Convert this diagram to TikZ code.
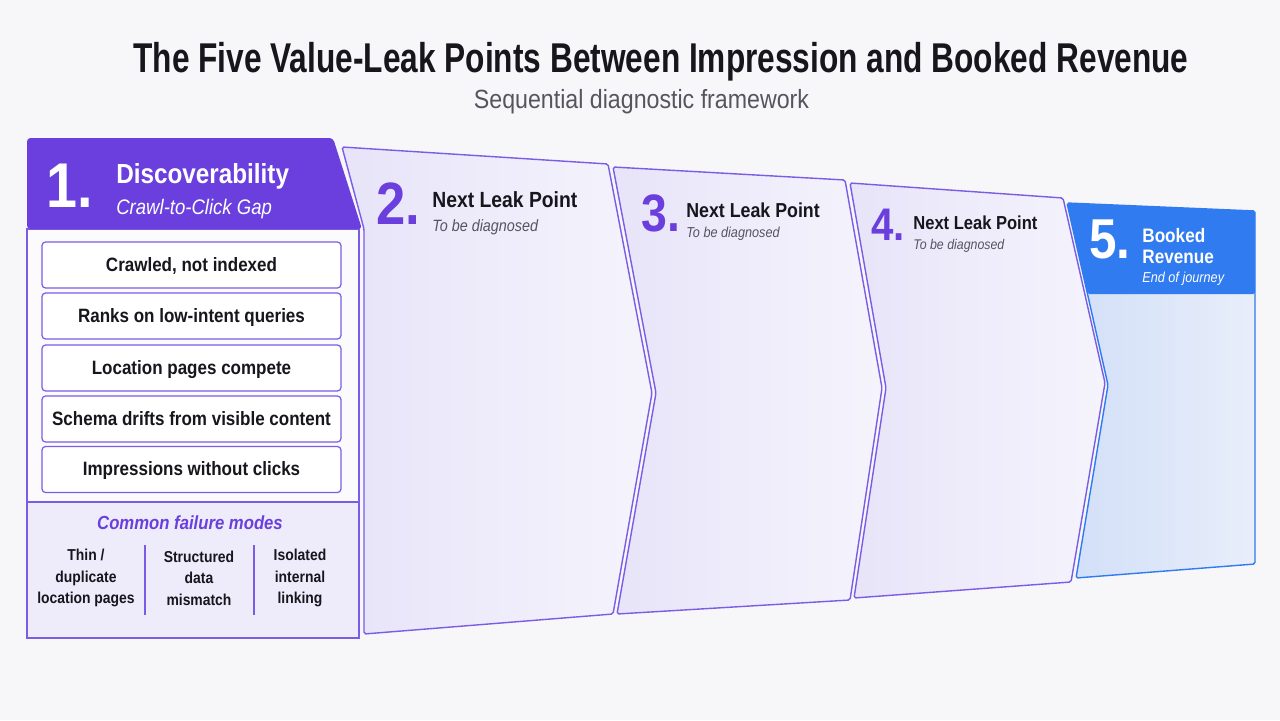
\documentclass[tikz,border=0pt]{standalone}
\usepackage{fontspec}
\setmainfont{Liberation Sans}[FakeStretch=0.88]
\newfontfamily\titlefont{Liberation Sans}[FakeStretch=0.76]
\usetikzlibrary{positioning}
\definecolor{bg}{HTML}{F7F7FA}
\definecolor{leakpurple}{HTML}{6A3FDD}
\definecolor{leakline}{HTML}{7B5CE6}
\definecolor{leakfillA}{HTML}{E8E4F9}
\definecolor{leakfillB}{HTML}{F5F4FC}
\definecolor{modefill}{HTML}{EEEBFA}
\definecolor{revblue}{HTML}{2F7BEF}
\definecolor{revfillA}{HTML}{D2DFF8}
\definecolor{revfillB}{HTML}{E8EEFA}
\definecolor{inktext}{HTML}{16161C}
\definecolor{subgray}{HTML}{55555F}
\newcommand{\fsz}[1]{\fontsize{#1}{#1}\selectfont}
\begin{document}
\begin{tikzpicture}[x=0.02cm, y=-0.02cm,
    panel/.style={draw=leakline, line width=0.8pt, rounded corners=1pt, left color=leakfillA, right color=leakfillB},
    itembox/.style={draw=leakline, line width=0.7pt, rounded corners=2pt, fill=white,
        minimum width=5.98cm, minimum height=0.92cm, inner sep=0pt,
        text height=0.72em, text depth=0pt, font=\bfseries\fsz{11}, text=inktext},
    lbl/.style={inner sep=0pt, anchor=base west},
    modetext/.style={inner sep=0pt, align=center, font=\bfseries\fontsize{9}{12.2}\selectfont, text=inktext}]
    \useasboundingbox (0,0) rectangle (1280,720);
    \fill[bg] (0,0) rectangle (1280,720);

    % title
    \node[inner sep=0pt, anchor=base, font=\titlefont\bfseries\fsz{23.7}, text=inktext] (title) at (661,72)
        {The Five Value-Leak Points Between Impression and Booked Revenue};
    \node[inner sep=0pt, anchor=base, font=\fsz{15}, text=subgray] (subtitle) at (641.5,108)
        {Sequential diagnostic framework};

    % 5. booked revenue
    \draw[draw=revblue, line width=0.8pt, rounded corners=1pt, left color=revfillA, right color=revfillB]
        (1067,203) -- (1255,211) -- (1255,564) -- (1076,578) -- (1108,385) -- cycle;
    \fill[revblue, rounded corners=1pt] (1067,203) -- (1255,211) -- (1255,294) -- (1087.5,294) -- cycle;
    \node[lbl, font=\bfseries\fsz{32}, text=white] (n5) at (1089,258) {5.};
    \node[lbl, font=\bfseries\fsz{11.1}, text=white] (booked) at (1142,242) {Booked};
    \node[lbl, font=\bfseries\fsz{11.1}, text=white] (revenue) at (1142,263) {Revenue};
    \node[lbl, font=\itshape\fsz{8.2}, text=white] (journey) at (1142,282) {End of journey};

    % 4.
    \draw[panel] (850,183) -- (1063,198) -- (1105,383) -- (1071,582) -- (854,598) -- (886,388) -- cycle;
    \node[lbl, font=\bfseries\fsz{26}, text=leakpurple] (n4) at (871,240) {4.};
    \node[lbl, font=\bfseries\fsz{10.7}, text=inktext] (leak4) at (913,229) {Next Leak Point};
    \node[lbl, font=\itshape\fsz{8}, text=subgray] (diag4) at (913,249) {To be diagnosed};

    % 3.
    \draw[panel] (613,167) -- (845,180) -- (882,388) -- (850,600) -- (617,614) -- (656,393) -- cycle;
    \node[lbl, font=\bfseries\fsz{30}, text=leakpurple] (n3) at (641,231) {3.};
    \node[lbl, font=\bfseries\fsz{11.5}, text=inktext] (leak3) at (686,217) {Next Leak Point};
    \node[lbl, font=\itshape\fsz{8.2}, text=subgray] (diag3) at (686,237) {To be diagnosed};

    % 2.
    \draw[panel] (342,147) -- (608,164) -- (652,393) -- (613,614) -- (364,634) -- (364,229) -- cycle;
    \node[lbl, font=\bfseries\fsz{34}, text=leakpurple] (n2) at (376,224) {2.};
    \node[lbl, font=\bfseries\fsz{12.5}, text=inktext] (leak2) at (432,207) {Next Leak Point};
    \node[lbl, font=\itshape\fsz{9.3}, text=subgray] (diag2) at (432,231) {To be diagnosed};

    % 1. discoverability
    \draw[draw=leakline, line width=0.8pt, fill=leakfillB!40!white] (27,229) rectangle (359,638);
    \draw[draw=leakline, line width=0.8pt, fill=modefill] (27,502) rectangle (359,638);
    \fill[leakpurple, rounded corners=2pt] (27,229) -- (27,138) -- (333,138) -- (362,229) -- cycle;
    \node[lbl, font=\bfseries\fsz{36}, text=white] (n1) at (46,207) {1.};
    \node[lbl, font=\bfseries\fsz{15.7}, text=white] (disc) at (116,183) {Discoverability};
    \node[lbl, font=\itshape\fsz{12}, text=white] (gap) at (116,214) {Crawl-to-Click Gap};

    \node[itembox] (crawled) at (191.5,265) {Crawled, not indexed};
    \node[itembox] (ranks) at (191.5,316) {Ranks on low-intent queries};
    \node[itembox] (compete) at (191.5,368) {Location pages compete};
    \node[itembox] (schema) at (191.5,419) {Schema drifts from visible content};
    \node[itembox] (impress) at (191.5,469.5) {Impressions without clicks};

    \node[inner sep=0pt, anchor=base, font=\bfseries\itshape\fsz{10.8}, text=leakpurple] (modes) at (190,529)
        {Common failure modes};
    \node[modetext] (thin) at (86,578) {Thin /\\ duplicate\\ location pages};
    \node[modetext] (struct) at (199,578) {Structured\\ data\\ mismatch};
    \node[modetext] (isol) at (300,578) {Isolated\\ internal\\ linking};
    \draw[leakline, line width=0.6pt] (145,545) -- (145,615);
    \draw[leakline, line width=0.6pt] (254,545) -- (254,615);
\end{tikzpicture}
\end{document}
